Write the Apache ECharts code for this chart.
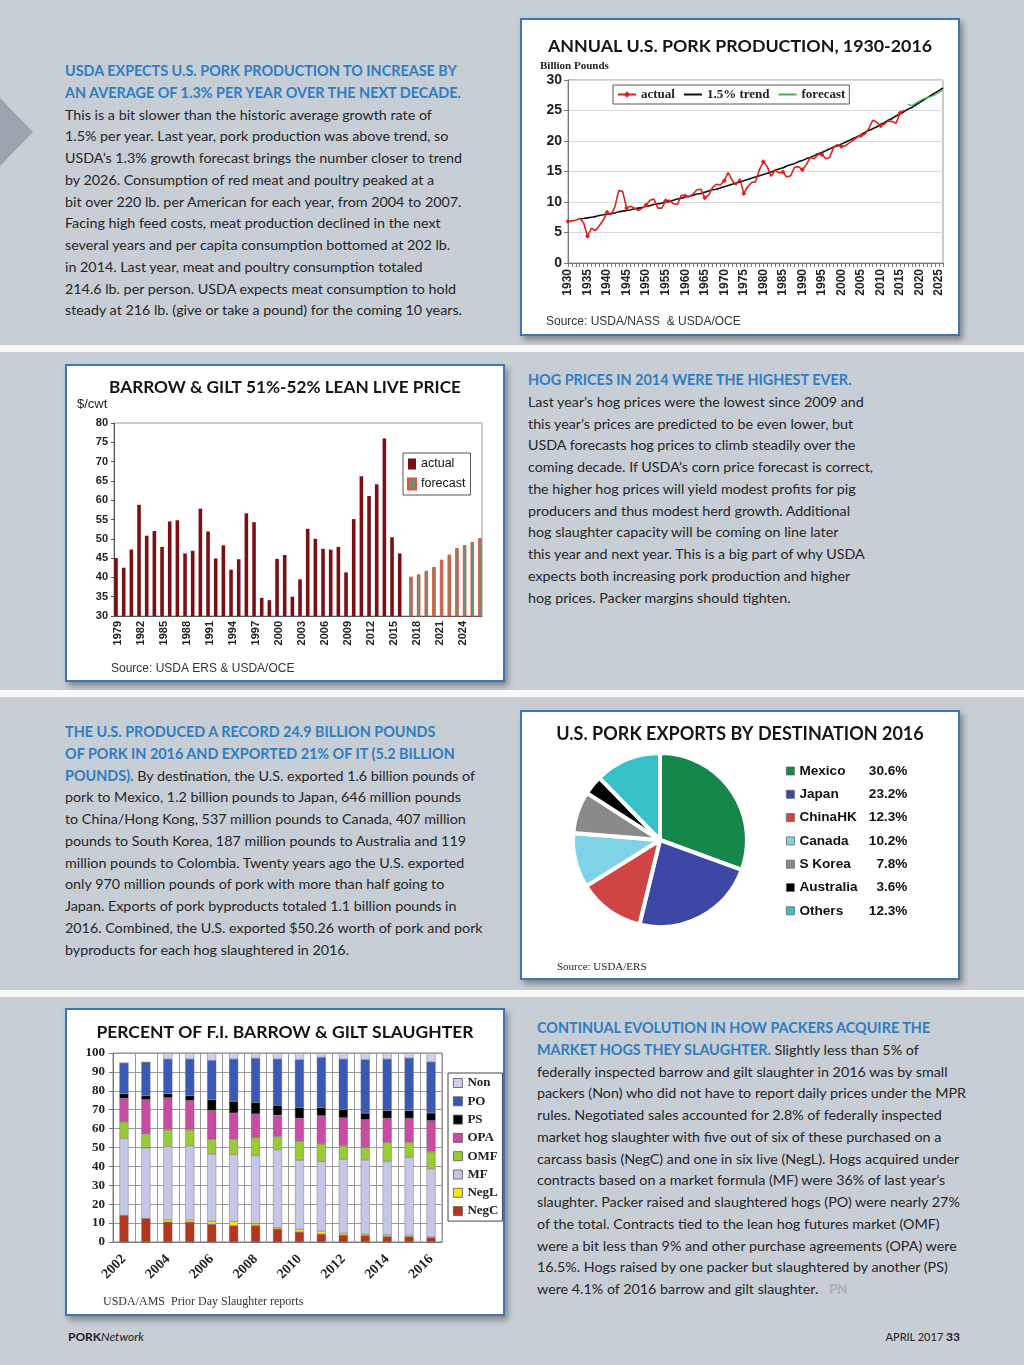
<!DOCTYPE html>
<html>
<head>
<meta charset="utf-8">
<script src="https://cdn.jsdelivr.net/npm/echarts@6/dist/echarts.min.js"></script>
<style>
html,body{margin:0;padding:0;}
body{width:1024px;height:1365px;position:relative;background:#c7ced6;overflow:hidden;font-family:Lato,"Open Sans",sans-serif;}
.strip{position:absolute;left:0;width:1024px;height:7px;background:#f7f8f9;}
.box{position:absolute;background:#fff;border:2px solid #3a77b3;box-sizing:border-box;box-shadow:3px 4px 6px rgba(0,0,0,0.35);}
.chart{position:absolute;left:0;top:0;width:100%;height:100%;}
.txt{position:absolute;font-size:14.3px;line-height:21.75px;color:#262626;white-space:nowrap;}
.hd{color:#2f7dc1;font-weight:bold;font-size:14.4px;}
.arrow{position:absolute;left:0;top:98px;width:0;height:0;border-top:34px solid transparent;border-bottom:34px solid transparent;border-left:33px solid #9ca5ae;}
.foot{position:absolute;top:1329px;font-size:12px;color:#222;}
</style>
</head>
<body>
<div class="strip" style="top:345px"></div>
<div class="strip" style="top:690px"></div>
<div class="strip" style="top:990px"></div>
<div class="arrow"></div>

<div class="txt" id="t1" style="left:65px;top:60px">
<span class="hd">USDA EXPECTS U.S. PORK PRODUCTION TO INCREASE BY</span><br>
<span class="hd">AN AVERAGE OF 1.3% PER YEAR OVER THE NEXT DECADE.</span><br>
This is a bit slower than the historic average growth rate of<br>
1.5% per year. Last year, pork production was above trend, so<br>
USDA’s 1.3% growth forecast brings the number closer to trend<br>
by 2026. Consumption of red meat and poultry peaked at a<br>
bit over 220 lb. per American for each year, from 2004 to 2007.<br>
Facing high feed costs, meat production declined in the next<br>
several years and per capita consumption bottomed at 202 lb.<br>
in 2014. Last year, meat and poultry consumption totaled<br>
214.6 lb. per person. USDA expects meat consumption to hold<br>
steady at 216 lb. (give or take a pound) for the coming 10 years.
</div>

<div class="txt" id="t2" style="left:528px;top:369px">
<span class="hd">HOG PRICES IN 2014 WERE THE HIGHEST EVER.</span><br>
Last year’s hog prices were the lowest since 2009 and<br>
this year’s prices are predicted to be even lower, but<br>
USDA forecasts hog prices to climb steadily over the<br>
coming decade. If USDA’s corn price forecast is correct,<br>
the higher hog prices will yield modest profits for pig<br>
producers and thus modest herd growth. Additional<br>
hog slaughter capacity will be coming on line later<br>
this year and next year. This is a big part of why USDA<br>
expects both increasing pork production and higher<br>
hog prices. Packer margins should tighten.
</div>

<div class="txt" id="t3" style="left:65px;top:721px">
<span class="hd">THE U.S. PRODUCED A RECORD 24.9 BILLION POUNDS</span><br>
<span class="hd">OF PORK IN 2016 AND EXPORTED 21% OF IT (5.2 BILLION</span><br>
<span class="hd">POUNDS).</span> By destination, the U.S. exported 1.6 billion pounds of<br>
pork to Mexico, 1.2 billion pounds to Japan, 646 million pounds<br>
to China/Hong Kong, 537 million pounds to Canada, 407 million<br>
pounds to South Korea, 187 million pounds to Australia and 119<br>
million pounds to Colombia. Twenty years ago the U.S. exported<br>
only 970 million pounds of pork with more than half going to<br>
Japan. Exports of pork byproducts totaled 1.1 billion pounds in<br>
2016. Combined, the U.S. exported $50.26 worth of pork and pork<br>
byproducts for each hog slaughtered in 2016.
</div>

<div class="txt" id="t4" style="left:537px;top:1017px">
<span class="hd">CONTINUAL EVOLUTION IN HOW PACKERS ACQUIRE THE</span><br>
<span class="hd">MARKET HOGS THEY SLAUGHTER.</span> Slightly less than 5% of<br>
federally inspected barrow and gilt slaughter in 2016 was by small<br>
packers (Non) who did not have to report daily prices under the MPR<br>
rules. Negotiated sales accounted for 2.8% of federally inspected<br>
market hog slaughter with five out of six of these purchased on a<br>
carcass basis (NegC) and one in six live (NegL). Hogs acquired under<br>
contracts based on a market formula (MF) were 36% of last year’s<br>
slaughter. Packer raised and slaughtered hogs (PO) were nearly 27%<br>
of the total. Contracts tied to the lean hog futures market (OMF)<br>
were a bit less than 9% and other purchase agreements (OPA) were<br>
16.5%. Hogs raised by one packer but slaughtered by another (PS)<br>
were 4.1% of 2016 barrow and gilt slaughter. &nbsp;&nbsp;<span style="color:#a9b0b8;font-weight:bold;font-size:13px">PN</span>
</div>

<div class="foot" style="left:68px"><b>PORK</b><i>Network</i></div>
<div class="foot" style="right:64px;font-size:11px">APRIL 2017 <b style="font-size:12px">33</b></div>

<div class="box" style="left:520px;top:18px;width:440px;height:318px"><div class="chart" id="c1"></div></div>
<div class="box" style="left:65px;top:364px;width:440px;height:318px"><div class="chart" id="c2"></div></div>
<div class="box" style="left:520px;top:710px;width:440px;height:270px"><div class="chart" id="c3"></div></div>
<div class="box" style="left:65px;top:1008px;width:440px;height:308px"><div class="chart" id="c4"></div></div>

<script>
// ---------- DATA ----------
const prodYears = ['1930','1931','1932','1933','1934','1935','1936','1937','1938','1939',
'1940','1941','1942','1943','1944','1945','1946','1947','1948','1949',
'1950','1951','1952','1953','1954','1955','1956','1957','1958','1959',
'1960','1961','1962','1963','1964','1965','1966','1967','1968','1969',
'1970','1971','1972','1973','1974','1975','1976','1977','1978','1979',
'1980','1981','1982','1983','1984','1985','1986','1987','1988','1989',
'1990','1991','1992','1993','1994','1995','1996','1997','1998','1999',
'2000','2001','2002','2003','2004','2005','2006','2007','2008','2009',
'2010','2011','2012','2013','2014','2015','2016','2017','2018','2019',
'2020','2021','2022','2023','2024','2025','2026'];
// billion pounds, 1930-2016
const prodActual = [
6.8,6.9,7.0,7.3,6.6,4.4,5.7,5.3,6.1,7.0,
8.3,7.9,9.2,11.9,11.7,9.0,9.3,9.0,8.6,9.0,
9.5,10.3,10.5,9.0,9.0,10.2,10.3,9.7,9.6,11.1,
11.0,10.9,11.3,12.0,12.1,10.7,11.1,12.4,12.9,12.8,
13.5,14.8,13.6,12.8,13.8,11.4,12.5,13.2,13.3,15.3,
16.6,15.8,14.2,15.2,14.8,14.9,14.1,14.3,15.7,15.8,
15.3,16.1,17.3,17.1,17.8,17.8,17.1,17.3,19.0,19.4,
19.1,19.2,19.7,20.1,20.6,20.9,21.1,22.0,23.4,23.1,
22.5,22.8,23.3,23.2,22.9,24.6,25.0];
// 1.5% trend line, 1933-2026
const prodTrend = [
7.2,7.3,7.4,7.5,7.6,7.8,7.9,
8.0,8.1,8.2,8.4,8.5,8.6,8.7,8.9,9.0,9.1,
9.3,9.4,9.6,9.7,9.8,10.0,10.1,10.3,10.5,10.6,
10.8,10.9,11.1,11.3,11.4,11.6,11.8,12.0,12.1,12.3,
12.5,12.7,12.9,13.1,13.3,13.5,13.7,13.9,14.1,14.3,
14.5,14.7,14.9,15.2,15.4,15.6,15.9,16.1,16.3,16.6,
16.8,17.1,17.3,17.6,17.9,18.1,18.4,18.7,19.0,19.2,
19.5,19.8,20.1,20.4,20.7,21.0,21.4,21.7,22.0,22.3,
22.7,23.0,23.4,23.7,24.1,24.4,24.8,25.2,25.5,25.9,
26.3,26.7,27.1,27.5,27.9,28.3,28.7];
// forecast 2017-2026
const prodForecast = [26.0,25.8,26.2,26.6,26.9,27.1,27.3,27.6,28.0,28.4];
const prodLegend = ['actual','1.5% trend','forecast'];

const priceYears = ['1979','1980','1981','1982','1983','1984','1985','1986','1987','1988',
'1989','1990','1991','1992','1993','1994','1995','1996','1997','1998',
'1999','2000','2001','2002','2003','2004','2005','2006','2007','2008',
'2009','2010','2011','2012','2013','2014','2015','2016','2017','2018',
'2019','2020','2021','2022','2023','2024','2025','2026'];
// $/cwt, 1979-2016
const priceActual = [45.0,42.5,47.2,58.8,50.8,52.0,47.9,54.5,54.8,46.2,
46.9,57.8,51.9,44.9,48.3,42.0,44.7,56.6,54.3,34.7,
34.1,44.8,45.8,35.0,39.5,52.6,50.0,47.4,47.2,47.9,
41.3,55.1,66.2,61.1,64.1,76.0,50.4,46.2];
// forecast 2017-2026
const priceForecast = [40.2,40.8,41.7,42.7,44.6,45.9,47.6,48.4,49.2,50.2];

const exportNames = ['Mexico','Japan','ChinaHK','Canada','S Korea','Australia','Others'];
const exportShares = [30.6,23.2,12.3,10.2,7.8,3.6,12.3];

const slYears = ['2002','2003','2004','2005','2006','2007','2008','2009','2010','2011','2012','2013','2014','2015','2016'];
const slNegC = [14.0,12.4,10.6,10.6,9.4,8.7,8.7,6.9,5.3,4.2,3.7,3.5,3.0,2.8,2.3];
const slNegL = [0,0,1.2,1.2,1.6,2.1,1.0,0.7,1.4,1.6,0.9,0.7,0.9,0.6,0.5];
const slMF   = [40.8,37.4,38.7,39.1,35.5,35.5,36.1,41.3,36.6,36.8,39.2,39.3,38.9,41.5,36.0];
const slOMF  = [8.8,7.3,8.9,8.5,7.9,8.1,9.3,6.9,9.9,9.3,7.1,6.7,9.9,7.8,8.9];
const slOPA  = [12.4,18.2,16.9,15.5,15.2,13.8,12.6,11.3,12.3,14.9,14.8,14.5,12.7,12.7,16.5];
const slPS   = [2.4,2.1,2.1,2.5,5.7,6.2,6.2,5.2,5.7,4.4,4.3,3.5,4.2,4.2,4.1];
const slPO   = [16.3,17.7,18.4,19.4,20.8,22.4,23.3,24.5,25.3,26.5,26.8,28.3,27.2,27.7,27.0];
const slNon  = [0,0,3.2,3.2,3.9,3.2,2.8,3.2,3.5,2.3,3.2,3.5,3.2,2.7,4.7];
const slLegend = ['Non','PO','PS','OPA','OMF','MF','NegL','NegC'];

// ---------- HELPERS ----------
const titleFont = {fontFamily:'Lato',fontWeight:'bold',fontSize:18,color:'#151515'};
const arialB = {fontFamily:'Liberation Sans, Arial',fontWeight:'bold',color:'#222'};
const serifB = {fontFamily:'Liberation Serif, Times New Roman',fontWeight:'bold',color:'#222'};
function pad(arr, before, after){ return Array(before).fill(null).concat(arr, Array(after).fill(null)); }

// ---------- CHART 1 ----------
const c1 = echarts.init(document.getElementById('c1'));
c1.setOption({
  animation:false,
  title:{text:'ANNUAL U.S. PORK PRODUCTION, 1930-2016',left:'center',top:12,textStyle:Object.assign({},titleFont,{fontSize:17.8})},
  grid:{left:46,right:15,top:60,height:183,show:true,borderColor:'#999',backgroundColor:'#fff'},
  legend:{data:[{name:'actual'},{name:'1.5% trend',itemStyle:{opacity:0}},{name:'forecast',itemStyle:{opacity:0}}],
    left:91,top:65,orient:'horizontal',itemWidth:18,itemHeight:8,itemGap:8,
    padding:[3,4],borderColor:'#555',borderWidth:1,backgroundColor:'#fff',
    textStyle:Object.assign({fontSize:13},serifB)},
  xAxis:{type:'category',data:prodYears,boundaryGap:false,
    axisLine:{lineStyle:{color:'#777'}},
    axisTick:{interval:0,length:4,lineStyle:{color:'#777'}},
    axisLabel:Object.assign({interval:4,rotate:90,fontSize:12,margin:6},arialB),
    splitLine:{show:false}},
  yAxis:{type:'value',min:0,max:30,interval:5,
    axisLine:{show:true,lineStyle:{color:'#777'}},axisTick:{show:true,length:4,lineStyle:{color:'#777'}},
    axisLabel:Object.assign({fontSize:14,margin:6},arialB),
    splitLine:{lineStyle:{color:'#d9d9d9'}}},
  graphic:[
    {type:'text',left:18,top:41,style:{text:'Billion Pounds',fontSize:11,fill:'#222',fontFamily:'Liberation Serif',fontWeight:'bold'}},
    {type:'text',left:24,top:296,style:{text:'Source: USDA/NASS  & USDA/OCE',fontSize:12,fill:'#333',fontFamily:'Liberation Sans, Arial'}}
  ],
  series:[
    {name:'actual',type:'line',data:pad(prodActual,0,10),symbol:'diamond',symbolSize:5,
      lineStyle:{color:'#e0201c',width:1.6},itemStyle:{color:'#e0201c'},z:3},
    {name:'1.5% trend',type:'line',data:pad(prodTrend,3,0),symbol:'none',smooth:true,
      lineStyle:{color:'#111',width:1.6},itemStyle:{color:'#111'},z:2},
    {name:'forecast',type:'line',data:pad(prodForecast,87,0),symbol:'none',
      lineStyle:{color:'#4caf50',width:1.3},itemStyle:{color:'#4caf50'},z:4}
  ]
});

// ---------- CHART 2 ----------
const c2 = echarts.init(document.getElementById('c2'));
c2.setOption({
  animation:false,
  title:{text:'BARROW & GILT 51%-52% LEAN LIVE PRICE',left:'center',top:8,textStyle:Object.assign({},titleFont,{fontSize:17.2})},
  grid:{left:47,top:57,width:368,height:193,show:true,borderColor:'#999',backgroundColor:'#fff'},
  legend:{data:[{name:'actual'},{name:'forecast'}],left:336,top:87,orient:'vertical',icon:'rect',
    itemWidth:8,itemHeight:11,itemGap:6,padding:[4,5,4,4],borderColor:'#555',borderWidth:1,backgroundColor:'#fff',
    textStyle:{fontFamily:'Liberation Sans, Arial',fontSize:12.5,color:'#111',lineHeight:14}},
  xAxis:{type:'category',data:priceYears,
    axisLine:{lineStyle:{color:'#555'}},
    axisTick:{show:false},
    axisLabel:Object.assign({interval:2,rotate:90,fontSize:11,margin:5},arialB)},
  yAxis:{type:'value',min:30,max:80,interval:5,
    axisLine:{show:true,lineStyle:{color:'#555'}},axisTick:{show:true,length:3},
    axisLabel:Object.assign({fontSize:11,margin:6},arialB),
    splitLine:{show:false}},
  graphic:[
    {type:'text',left:10,top:32,style:{text:'$/cwt',fontSize:13,fill:'#222',fontFamily:'Liberation Sans, Arial'}},
    {type:'text',left:44,top:297,style:{text:'Source: USDA ERS & USDA/OCE',fontSize:12,fill:'#333',fontFamily:'Liberation Sans, Arial'}}
  ],
  series:[
    {name:'actual',type:'bar',data:pad(priceActual,0,10),barWidth:3.6,barGap:'0%',
      itemStyle:{color:'#7a1014'}},
    {name:'forecast',type:'bar',data:pad(priceForecast,38,0),barWidth:3.6,
      itemStyle:{color:'#6f8f76',borderColor:'#e5503a',borderWidth:1}}
  ]
});

// ---------- CHART 3 ----------
const c3 = echarts.init(document.getElementById('c3'));
const pieColors = ['#16874a','#3d47a6','#cf4545','#80d3e6','#8a8a8a','#000000','#38c0c8'];
c3.setOption({
  animation:false,
  title:{text:'U.S. PORK EXPORTS BY DESTINATION 2016',left:'center',top:8,textStyle:titleFont},
  legend:{data:exportNames,left:259,top:47,orient:'vertical',icon:'rect',itemWidth:8,itemHeight:8,itemGap:9.3,
    itemStyle:{borderColor:'#666',borderWidth:0.8},
    formatter:function(n){const i=exportNames.indexOf(n);return '{n|'+n+'}{p|'+exportShares[i].toFixed(1)+'%}';},
    textStyle:{rich:{
      n:{width:67,fontSize:13.6,fontWeight:'bold',fontFamily:'Liberation Sans, Arial',color:'#111',lineHeight:14},
      p:{width:41,align:'right',fontSize:13.6,fontWeight:'bold',fontFamily:'Liberation Sans, Arial',color:'#111',lineHeight:14}}}},
  graphic:[
    {type:'text',left:35,top:250,style:{text:'Source: USDA/ERS',fontSize:11,fill:'#222',fontFamily:'Liberation Serif'}}
  ],
  series:[{type:'pie',center:[138,128],radius:[0,87],startAngle:90,clockwise:true,
    label:{show:false},labelLine:{show:false},
    itemStyle:{borderColor:'#fff',borderWidth:4},
    data:exportNames.map((n,i)=>({name:n,value:exportShares[i],itemStyle:{color:pieColors[i]}}))
  }]
});

// ---------- CHART 4 ----------
const c4 = echarts.init(document.getElementById('c4'));
const slColors = {Non:'#cfcfee',PO:'#3a59b4',PS:'#000000',OPA:'#c84da2',OMF:'#98cb35',MF:'#c6c6e6',NegL:'#f3e61b',NegC:'#b3361d'};
const slData = {NegC:slNegC,NegL:slNegL,MF:slMF,OMF:slOMF,OPA:slOPA,PS:slPS,PO:slPO,Non:slNon};
const stackOrder = ['NegC','NegL','MF','OMF','OPA','PS','PO','Non'];
c4.setOption({
  animation:false,
  title:{text:'PERCENT OF F.I. BARROW & GILT SLAUGHTER',left:'center',top:8,textStyle:Object.assign({},titleFont,{fontSize:17.5})},
  grid:{left:46,top:43,width:329,height:189,show:true,borderColor:'#888',backgroundColor:'#fff'},
  legend:{data:slLegend,left:381,top:63,orient:'vertical',icon:'rect',itemWidth:9,itemHeight:9,itemGap:4.3,
    padding:[3,4,3,5],borderColor:'#444',borderWidth:1,backgroundColor:'#fff',
    itemStyle:{borderColor:'#555',borderWidth:0.8},
    textStyle:Object.assign({fontSize:13,lineHeight:14},serifB)},
  xAxis:{type:'category',data:slYears,
    axisLine:{lineStyle:{color:'#777'}},
    axisTick:{interval:0,length:4,lineStyle:{color:'#777'}},
    splitLine:{show:true,interval:0,lineStyle:{color:'#999'}},
    axisLabel:Object.assign({interval:1,rotate:45,fontSize:14,margin:15},serifB)},
  yAxis:{type:'value',min:0,max:100,interval:10,
    axisLine:{show:true,lineStyle:{color:'#777'}},axisTick:{show:true,length:4},
    axisLabel:Object.assign({fontSize:13,margin:8},serifB),
    splitLine:{lineStyle:{color:'#999'}}},
  graphic:[
    {type:'text',left:36,top:286,style:{text:'USDA/AMS  Prior Day Slaughter reports',fontSize:12,fill:'#333',fontFamily:'Liberation Serif'}}
  ],
  series:stackOrder.map(k=>({name:k,type:'bar',stack:'s',barWidth:9,data:slData[k],
    itemStyle:{color:slColors[k],borderColor:'#666',borderWidth:0.4}}))
});
</script>
</body>
</html>
